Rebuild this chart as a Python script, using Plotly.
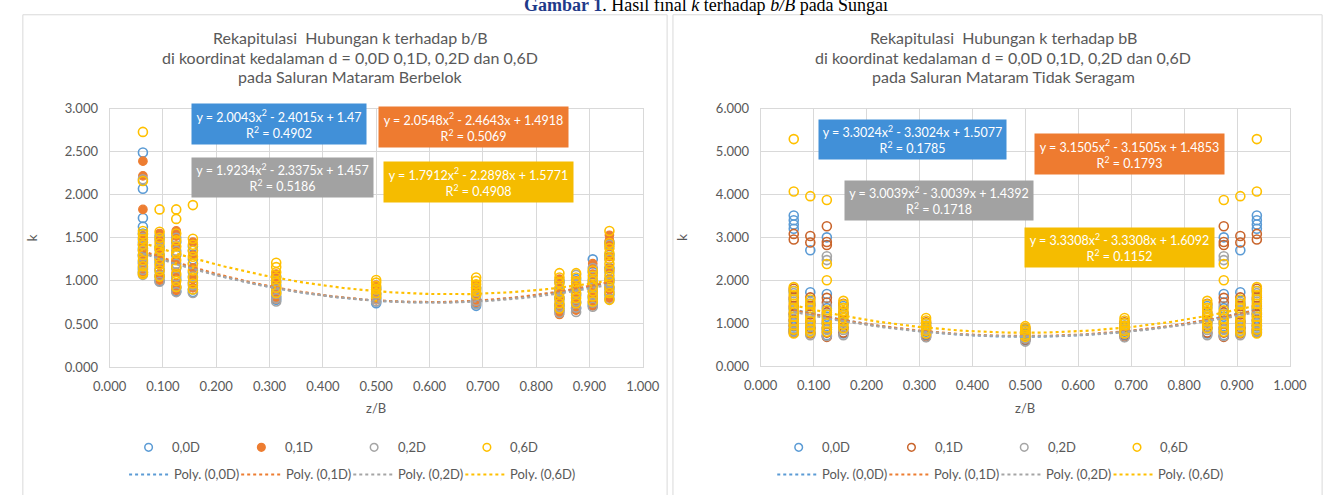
import numpy as np
import plotly.graph_objects as go

W, H = 1343, 495
FONT = "Lato, 'Open Sans', sans-serif"
SERIF = "'Liberation Serif', 'DejaVu Serif', serif"
GREY_TXT = "#595959"
GRID = "#D9D9D9"

# ---------------------------------------------------------------- data
# relative positions of the measuring verticals across the channel
z_pos = [0.0625, 0.09375, 0.125, 0.15625, 0.3125, 0.5, 0.6875,
         0.84375, 0.875, 0.90625, 0.9375]

depths = ["0,0D", "0,1D", "0,2D", "0,6D"]
colors = ["#5B9BD5", "#ED7D31", "#A5A5A5", "#FFC000"]
label_fills = ["#4190D8", "#EE7B30", "#A2A2A2", "#F5BC00"]

# Saluran Mataram Berbelok: k values measured on each vertical
bend_00 = [
    [2.49, 2.07, 1.73, 1.63, 1.55, 1.45, 1.38, 1.30, 1.22, 1.15, 1.10],
    [1.52, 1.40, 1.30, 1.22, 1.12, 1.05, 1.00],
    [1.45, 1.30, 1.15, 1.02, 0.92, 0.88],
    [1.40, 1.25, 1.10, 0.98, 0.90, 0.87],
    [1.05, 0.95, 0.88, 0.82, 0.78],
    [0.92, 0.85, 0.80, 0.76, 0.74],
    [0.92, 0.85, 0.79, 0.74, 0.71],
    [1.00, 0.90, 0.80, 0.72, 0.66],
    [1.02, 0.92, 0.83, 0.75, 0.68],
    [1.25, 1.10, 0.98, 0.88, 0.80, 0.72],
    [1.45, 1.30, 1.15, 1.02, 0.92, 0.84],
]
bend_01 = [
    [2.39, 2.22, 1.83, 1.52, 1.47, 1.40, 1.33, 1.25, 1.18, 1.12, 1.08],
    [1.55, 1.47, 1.38, 1.28, 1.18, 1.08, 1.01],
    [1.58, 1.52, 1.40, 1.25, 1.10, 0.97, 0.89],
    [1.45, 1.30, 1.15, 1.02, 0.92],
    [1.08, 0.98, 0.90, 0.84, 0.79],
    [0.95, 0.88, 0.82, 0.78],
    [0.95, 0.87, 0.80, 0.75],
    [1.02, 0.92, 0.82, 0.72, 0.64, 0.61],
    [1.00, 0.90, 0.80, 0.72, 0.66],
    [1.20, 1.08, 0.96, 0.86, 0.78, 0.71],
    [1.53, 1.47, 1.40, 1.28, 1.15, 1.02, 0.90, 0.80],
]
bend_02 = [
    [2.18, 1.50, 1.42, 1.35, 1.28, 1.20, 1.13, 1.07],
    [1.48, 1.36, 1.25, 1.15, 1.06, 0.99],
    [1.50, 1.35, 1.20, 1.05, 0.93, 0.87],
    [1.35, 1.20, 1.05, 0.95, 0.86],
    [1.00, 0.92, 0.85, 0.80, 0.76],
    [0.90, 0.84, 0.79, 0.76],
    [0.90, 0.83, 0.77, 0.73],
    [0.98, 0.88, 0.78, 0.70, 0.63],
    [1.07, 0.95, 0.85, 0.76, 0.69, 0.64],
    [1.15, 1.02, 0.92, 0.83, 0.75, 0.70],
    [1.42, 1.25, 1.10, 0.98, 0.88, 0.79],
]
bend_06 = [
    [2.73, 2.16, 1.58, 1.54, 1.48, 1.42, 1.36, 1.30, 1.24, 1.17, 1.10, 1.08],
    [1.83, 1.57, 1.50, 1.44, 1.37, 1.31, 1.25, 1.19, 1.12, 1.05],
    [1.83, 1.72, 1.55, 1.47, 1.40, 1.32, 1.24, 1.16, 1.08, 1.00, 0.93],
    [1.88, 1.49, 1.42, 1.35, 1.28, 1.20, 1.12, 1.04, 0.97, 0.90],
    [1.21, 1.16, 1.10, 1.04, 0.98, 0.92, 0.86],
    [1.01, 0.98, 0.94, 0.90, 0.86, 0.82],
    [1.04, 1.00, 0.96, 0.92, 0.88, 0.84],
    [1.09, 1.04, 0.98, 0.92, 0.86, 0.80, 0.74, 0.68],
    [1.09, 1.04, 0.98, 0.92, 0.86, 0.80, 0.74],
    [1.12, 1.06, 1.00, 0.94, 0.88, 0.82, 0.76],
    [1.58, 1.44, 1.38, 1.32, 1.26, 1.20, 1.13, 1.06, 1.00, 0.93, 0.86, 0.78],
]
# polynomial trend lines (a, b, c) and R^2
bend_coef = [[2.0043, -2.4015, 1.47], [2.0548, -2.4643, 1.4918],
             [1.9234, -2.3375, 1.457], [1.7912, -2.2898, 1.5771]]
bend_r2 = [0.4902, 0.5069, 0.5186, 0.4908]

# Saluran Mataram Tidak Seragam: k values measured on each vertical
uneven_00 = [
    [3.51, 3.40, 3.30, 3.20, 1.75, 1.55, 1.35, 1.20, 1.05, 0.92, 0.82],
    [2.70, 1.72, 1.45, 1.25, 1.05, 0.90, 0.78],
    [3.00, 1.68, 1.35, 1.15, 0.98, 0.85, 0.72],
    [1.40, 1.20, 1.02, 0.88, 0.76],
    [1.00, 0.90, 0.80, 0.72],
    [0.85, 0.75, 0.66, 0.60],
    [1.00, 0.90, 0.80, 0.72],
    [1.40, 1.20, 1.02, 0.88, 0.76],
    [3.00, 1.68, 1.35, 1.15, 0.98, 0.85, 0.72],
    [2.70, 1.72, 1.45, 1.25, 1.05, 0.90, 0.78],
    [3.51, 3.40, 3.30, 3.20, 1.75, 1.55, 1.35, 1.20, 1.05, 0.92, 0.82],
]
uneven_01 = [
    [3.08, 2.95, 1.80, 1.60, 1.40, 1.22, 1.08, 0.95, 0.85, 0.78],
    [3.03, 2.88, 1.60, 1.40, 1.20, 1.02, 0.88, 0.76],
    [3.26, 2.89, 2.82, 1.59, 1.48, 1.25, 1.05, 0.90, 0.78, 0.68],
    [1.45, 1.25, 1.05, 0.90, 0.78],
    [1.02, 0.92, 0.82, 0.74, 0.68],
    [0.88, 0.78, 0.70, 0.62],
    [1.02, 0.92, 0.82, 0.74, 0.68],
    [1.45, 1.25, 1.05, 0.90, 0.78],
    [3.26, 2.89, 2.82, 1.59, 1.48, 1.25, 1.05, 0.90, 0.78, 0.68],
    [3.03, 2.88, 1.60, 1.40, 1.20, 1.02, 0.88, 0.76],
    [3.08, 2.95, 1.80, 1.60, 1.40, 1.22, 1.08, 0.95, 0.85, 0.78],
]
uneven_02 = [
    [1.70, 1.50, 1.30, 1.15, 1.00, 0.88, 0.80],
    [1.50, 1.30, 1.10, 0.95, 0.82, 0.72],
    [2.56, 2.47, 1.40, 1.20, 1.00, 0.85, 0.70],
    [1.35, 1.15, 0.98, 0.84, 0.72],
    [0.95, 0.85, 0.76, 0.67],
    [0.82, 0.72, 0.64, 0.57],
    [0.95, 0.85, 0.76, 0.67],
    [1.35, 1.15, 0.98, 0.84, 0.72],
    [2.56, 2.47, 1.40, 1.20, 1.00, 0.85, 0.70],
    [1.50, 1.30, 1.10, 0.95, 0.82, 0.72],
    [1.70, 1.50, 1.30, 1.15, 1.00, 0.88, 0.80],
]
uneven_06 = [
    [5.29, 4.07, 1.84, 1.75, 1.65, 1.55, 1.45, 1.35, 1.25, 1.15, 1.05, 0.95, 0.85, 0.76],
    [3.96, 1.55, 1.45, 1.35, 1.25, 1.15, 1.05, 0.95, 0.86, 0.78],
    [3.87, 2.38, 2.00, 1.30, 1.20, 1.10, 1.00, 0.90, 0.80],
    [1.52, 1.44, 1.36, 1.28, 1.20, 1.12, 1.04, 0.96, 0.88],
    [1.12, 1.06, 1.00, 0.94, 0.88, 0.82, 0.76],
    [0.93, 0.88, 0.83, 0.78, 0.73, 0.68],
    [1.12, 1.06, 1.00, 0.94, 0.88, 0.82, 0.76],
    [1.52, 1.44, 1.36, 1.28, 1.20, 1.12, 1.04, 0.96, 0.88],
    [3.87, 2.38, 2.00, 1.30, 1.20, 1.10, 1.00, 0.90, 0.80],
    [3.96, 1.55, 1.45, 1.35, 1.25, 1.15, 1.05, 0.95, 0.86, 0.78],
    [5.29, 4.07, 1.84, 1.75, 1.65, 1.55, 1.45, 1.35, 1.25, 1.15, 1.05, 0.95, 0.85, 0.76],
]
uneven_coef = [[3.3024, -3.3024, 1.5077], [3.1505, -3.1505, 1.4853],
               [3.0039, -3.0039, 1.4392], [3.3308, -3.3308, 1.6092]]
uneven_r2 = [0.1785, 0.1793, 0.1718, 0.1152]

titles_bend = ["Rekapitulasi  Hubungan k terhadap b/B",
               "di koordinat kedalaman d = 0,0D 0,1D, 0,2D dan 0,6D",
               "pada Saluran Mataram Berbelok"]
titles_uneven = ["Rekapitulasi  Hubungan k terhadap bB",
                 "di koordinat kedalaman d = 0,0D 0,1D, 0,2D dan 0,6D",
                 "pada Saluran Mataram Tidak Seragam"]
x_title = "z/B"
y_title = "k"

# ---------------------------------------------------------------- layout helpers
def px(x):
    return x / W


def py(y):
    return 1 - y / H


panels = [
    dict(series=[bend_00, bend_01, bend_02, bend_06], coef=bend_coef, r2=bend_r2,
         titles=titles_bend, filled=[False, True, False, False],
         marker_colors=colors,
         plot=(95, 104, 642, 371), frame=(6, 7, 667), ymax=3, ydt=0.5,
         title_cx=342, ylab_x=15,
         boxes=[(182, 356, 100, 140), (374, 563, 103, 143),
                (182, 363, 156, 195), (379, 568, 160, 200)],
         leg_marker_x=135, leg_line_x=115),
    dict(series=[uneven_00, uneven_01, uneven_02, uneven_06], coef=uneven_coef, r2=uneven_r2,
         titles=titles_uneven, filled=[False, False, False, False],
         marker_colors=["#5B9BD5", "#C9652C", "#A5A5A5", "#FFC000"],
         plot=(763, 104, 1306, 370), frame=(673, 7, 1339), ymax=6, ydt=1,
         title_cx=1012, ylab_x=682,
         boxes=[(825, 1012, 116, 155), (1047, 1236, 131, 171),
                (852, 1040, 179, 218), (1037, 1226, 228, 267)],
         leg_marker_x=802, leg_line_x=780),
]

fig = go.Figure()
shapes, annotations = [], []
layout_axes = {}


def fmt_eq(a, b, c):
    sb = "-" if b < 0 else "+"
    sc = "-" if c < 0 else "+"
    return f"y = {a:g}x<sup>2</sup> {sb} {abs(b):g}x {sc} {abs(c):g}"


for i, p in enumerate(panels):
    sfx = "" if i == 0 else str(i + 1)
    xa, ya = "x" + sfx, "y" + sfx
    x0, y0, x1, y1 = p["plot"]

    # scatter points
    for vals, name, col, filled in zip(p["series"], depths, p["marker_colors"], p["filled"]):
        xs = [z for z, colvals in zip(z_pos, vals) for _ in colvals]
        ys = [v for colvals in vals for v in colvals]
        if filled:
            marker = dict(symbol="circle", size=8.5, color=col, line=dict(color=col, width=1.2))
        else:
            marker = dict(symbol="circle-open", size=9, color=col, line=dict(width=1.6))
        fig.add_trace(go.Scatter(x=xs, y=ys, mode="markers", marker=marker, name=name,
                                 xaxis=xa, yaxis=ya, showlegend=False))

    # polynomial trend lines
    zfit = np.linspace(min(z_pos), max(z_pos), 150)
    for (a, b, c), col, name in zip(p["coef"], colors, depths):
        fig.add_trace(go.Scatter(x=zfit, y=a * zfit ** 2 + b * zfit + c, mode="lines",
                                 line=dict(color=col, width=2.2, dash="dot"),
                                 name=f"Poly. ({name})", xaxis=xa, yaxis=ya, showlegend=False))

    common = dict(showgrid=True, gridcolor=GRID, gridwidth=1, zeroline=False,
                  showline=True, linecolor=GRID, linewidth=1, mirror=True, ticks="",
                  tickformat=".3f", tickfont=dict(family=FONT, size=13, color=GREY_TXT),
                  fixedrange=True)
    layout_axes["xaxis" + sfx] = dict(common, domain=[px(x0), px(x1)], range=[0, 1], dtick=0.1,
                                      tick0=0, anchor=ya, ticklabelstandoff=7)
    layout_axes["yaxis" + sfx] = dict(common, domain=[py(y1), py(y0)], range=[0, p["ymax"]],
                                      dtick=p["ydt"], tick0=0, anchor=xa, ticklabelstandoff=8)

    # chart frame
    fx0, fy0, fx1 = p["frame"]
    shapes.append(dict(type="rect", xref="paper", yref="paper", x0=px(fx0), x1=px(fx1),
                       y0=-0.05, y1=py(fy0), line=dict(color=GRID, width=1),
                       fillcolor="rgba(0,0,0,0)", layer="below"))

    # chart title
    for t, yy in zip(p["titles"], [31, 51, 71]):
        annotations.append(dict(text=t, x=px(p["title_cx"]), y=py(yy), xref="paper", yref="paper",
                                showarrow=False, xanchor="center", yanchor="middle",
                                font=dict(family=FONT, size=16, color=GREY_TXT)))

    # axis titles
    annotations.append(dict(text=x_title, x=px((x0 + x1) / 2), y=py(413), xref="paper",
                            yref="paper", showarrow=False, xanchor="center", yanchor="middle",
                            font=dict(family=FONT, size=13, color=GREY_TXT)))
    annotations.append(dict(text=y_title, x=px(p["ylab_x"]), y=py((y0 + y1) / 2), xref="paper",
                            yref="paper", showarrow=False, textangle=-90, xanchor="center",
                            yanchor="middle", font=dict(family=FONT, size=14, color=GREY_TXT)))

    # trend line equations
    for (a, b, c), r2, fill, (bx0, bx1, by0, by1) in zip(p["coef"], p["r2"], label_fills, p["boxes"]):
        annotations.append(dict(text=fmt_eq(a, b, c) + f"<br>R<sup>2</sup> = {r2:g}",
                                x=px((bx0 + bx1) / 2), y=py((by0 + by1) / 2), xref="paper",
                                yref="paper", showarrow=False, xanchor="center", yanchor="middle",
                                width=bx1 - bx0, height=by1 - by0, bgcolor=fill, borderpad=0,
                                align="center", font=dict(family=FONT, size=12.5, color="white")))

    # legend: marker row and trend line row
    for j, (name, col, mcol, filled) in enumerate(zip(depths, colors, p["marker_colors"],
                                                      p["filled"])):
        mx = p["leg_marker_x"] + j * 115.7
        shapes.append(dict(type="circle", xref="paper", yref="paper", xsizemode="pixel",
                           ysizemode="pixel", xanchor=px(mx), yanchor=py(454),
                           x0=-3.8, x1=3.8, y0=-3.8, y1=3.8,
                           line=dict(color=mcol, width=1.5),
                           fillcolor=mcol if filled else "rgba(0,0,0,0)"))
        annotations.append(dict(text=name, x=px(mx + 22), y=py(454), xref="paper", yref="paper",
                                showarrow=False, xanchor="left", yanchor="middle",
                                font=dict(family=FONT, size=13, color=GREY_TXT)))
        lx = p["leg_line_x"] + j * 115
        shapes.append(dict(type="line", xref="paper", yref="paper", x0=px(lx), x1=px(lx + 40),
                           y0=py(482), y1=py(482), line=dict(color=col, width=2, dash="dot")))
        annotations.append(dict(text=f"Poly. ({name})", x=px(lx + 44), y=py(482), xref="paper",
                                yref="paper", showarrow=False, xanchor="left", yanchor="middle",
                                font=dict(family=FONT, size=13, color=GREY_TXT)))

# figure caption above the two charts (its upper part runs off the page)
annotations.append(dict(
    text="<b><span style='color:#1F3A8A'>Gambar 1</span></b>. Hasil final <i>k</i> terhadap "
         "<i>b/B</i> pada Sungai",
    x=px(896), y=py(-3), xref="paper", yref="paper", showarrow=False, xanchor="right",
    yanchor="middle", font=dict(family=SERIF, size=18, color="black")))

fig.update_layout(
    width=W, height=H, margin=dict(l=0, r=0, t=0, b=0),
    paper_bgcolor="white", plot_bgcolor="white",
    showlegend=False, shapes=shapes, annotations=annotations,
    font=dict(family=FONT, color=GREY_TXT),
    **layout_axes,
)

fig.write_html("out.html")
